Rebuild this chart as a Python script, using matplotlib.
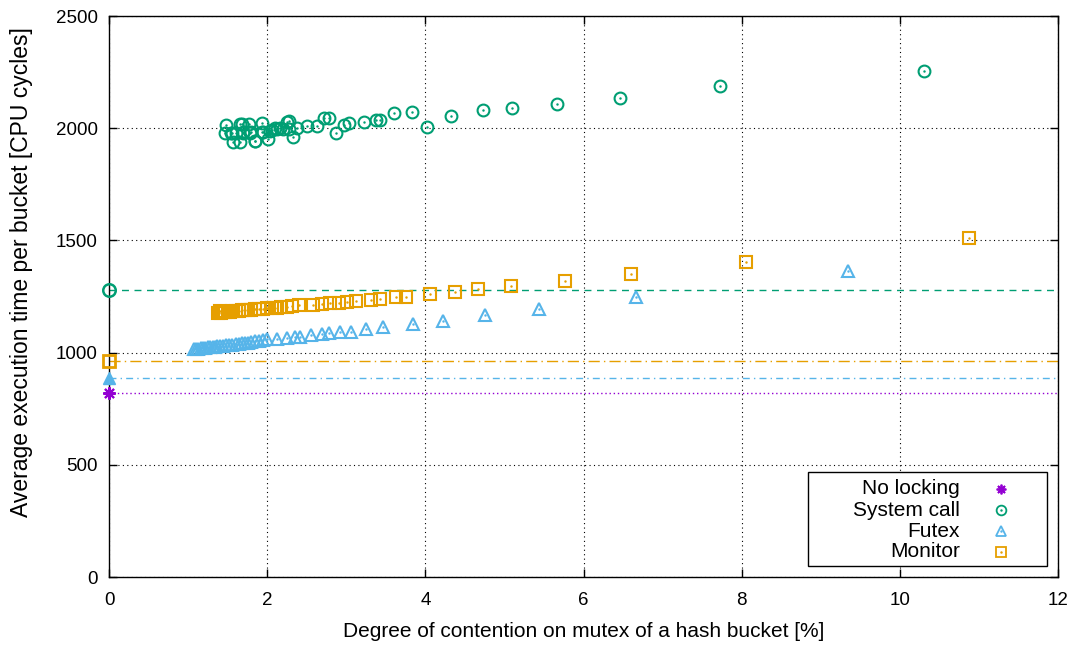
import matplotlib
matplotlib.use("Agg")
import matplotlib.pyplot as plt
from matplotlib.patches import Rectangle

# baselines (contention 0)
BASE_NOLOCK = 820
BASE_SYSCALL = 1280
BASE_FUTEX = 887
BASE_MONITOR = 962

syscall_x = [1.47, 1.48, 1.54, 1.55, 1.57, 1.61, 1.66, 1.66, 1.68, 1.70, 1.70,
             1.77, 1.78, 1.80, 1.84, 1.85, 1.93, 1.94, 1.95, 2.01, 2.04, 2.06,
             2.10, 2.12, 2.16, 2.20, 2.25, 2.27, 2.27, 2.33, 2.38, 2.50, 2.63,
             2.72, 2.78, 2.87, 2.97, 3.03, 3.22, 3.38, 3.43, 3.61, 3.83, 4.02,
             4.33, 4.73, 5.09, 5.67, 6.46, 7.72, 10.30]
syscall_y = [1977, 2014, 1977, 1977, 1940, 1977, 1940, 2019, 2019, 1977, 1981,
             2019, 1980, 1981, 1944, 1944, 1984, 2024, 1984, 1950, 1989, 1992,
             1999, 1995, 1999, 1995, 2029, 2033, 1995, 1959, 1999, 2012, 2012,
             2046, 2046, 1977, 2014, 2024, 2029, 2036, 2036, 2069, 2072, 2007,
             2054, 2081, 2091, 2109, 2133, 2186, 2255]

futex_x = [1.07, 1.10, 1.13, 1.16, 1.19, 1.22, 1.25, 1.28, 1.31, 1.34, 1.37,
           1.40, 1.44, 1.48, 1.52, 1.56, 1.60, 1.64, 1.68, 1.72, 1.76, 1.80,
           1.85, 1.90, 1.95, 2.00, 2.13, 2.25, 2.35, 2.42, 2.56, 2.69, 2.78,
           2.92, 3.06, 3.25, 3.46, 3.84, 4.22, 4.75, 5.44, 6.67, 9.35]
futex_y = [1014, 1016, 1018, 1019, 1020, 1022, 1023, 1024, 1026, 1027, 1028,
           1030, 1031, 1033, 1034, 1036, 1037, 1039, 1041, 1043, 1045, 1047,
           1050, 1053, 1056, 1059, 1060, 1064, 1068, 1071, 1078, 1083, 1086,
           1090, 1094, 1104, 1112, 1128, 1143, 1166, 1194, 1249, 1365]

monitor_x = [1.38, 1.40, 1.42, 1.44, 1.47, 1.50, 1.53, 1.56, 1.60, 1.64, 1.68,
             1.72, 1.76, 1.80, 1.85, 1.90, 1.95, 2.00, 2.06, 2.12, 2.18, 2.25,
             2.32, 2.40, 2.58, 2.69, 2.79, 2.91, 3.01, 3.12, 3.31, 3.43, 3.63,
             3.76, 4.06, 4.37, 4.66, 5.08, 5.76, 6.60, 8.05, 10.87]
monitor_y = [1176, 1186, 1178, 1180, 1181, 1182, 1183, 1184, 1185, 1186, 1188,
             1189, 1190, 1191, 1193, 1194, 1196, 1197, 1199, 1201, 1203, 1205,
             1208, 1210, 1212, 1215, 1219, 1222, 1227, 1230, 1236, 1239, 1246,
             1250, 1262, 1271, 1282, 1297, 1320, 1352, 1402, 1512]

labels = ["No locking", "System call", "Futex", "Monitor"]

C_NOLOCK = "#9400d3"
C_SYSCALL = "#009e73"
C_FUTEX = "#56b4e9"
C_MONITOR = "#e69f00"
STAR = (8, 2, 0)

plt.rcParams["font.family"] = ["Liberation Sans", "DejaVu Sans"]

fig = plt.figure(figsize=(10.75, 6.46), dpi=100)
ax = fig.add_axes([0.1014, 0.1068, 0.8828, 0.8684])

# baselines as horizontal lines
ax.plot([0, 12], [BASE_NOLOCK] * 2, color=C_NOLOCK, lw=1.0, ls=(0, (1, 2)))
ax.plot([0, 12], [BASE_FUTEX] * 2, color=C_FUTEX, lw=1.0, ls=(0, (5, 3, 1, 3)))
ax.plot([0, 12], [BASE_MONITOR] * 2, color=C_MONITOR, lw=1.0, ls=(0, (8, 3, 1, 3)))
ax.plot([0, 12], [BASE_SYSCALL] * 2, color=C_SYSCALL, lw=1.0, ls=(0, (5, 4)))

ax.plot([0], [BASE_NOLOCK], ls="none", marker=STAR, ms=9, mew=1.5,
        color=C_NOLOCK, clip_on=False, zorder=5)
ax.plot([0], [BASE_FUTEX], ls="none", marker="^", ms=9, color=C_FUTEX,
        clip_on=False, zorder=5)
ax.plot([0], [BASE_MONITOR], ls="none", marker="s", ms=9, mfc="none", mew=2,
        color=C_MONITOR, clip_on=False, zorder=5)
ax.plot([0], [BASE_SYSCALL], ls="none", marker="o", ms=9, mfc="none", mew=1.8,
        color=C_SYSCALL, clip_on=False, zorder=5)

# measured points (open markers with a centre dot, gnuplot style)
series = [(syscall_x, syscall_y, "o", C_SYSCALL),
          (futex_x, futex_y, "^", C_FUTEX),
          (monitor_x, monitor_y, "s", C_MONITOR)]
for xs, ys, mk, col in series:
    ax.plot(xs, ys, ls="none", marker=mk, ms=8.5, mfc="none", mew=1.5, color=col)
    ax.plot(xs, ys, ls="none", marker=".", ms=1.5, color=col)

ax.set_xlim(0, 12)
ax.set_ylim(0, 2500)
ax.set_xticks(range(0, 13, 2))
ax.set_yticks(range(0, 2501, 500))
ax.tick_params(direction="in", top=True, right=True, length=6, width=1,
               labelsize=13.5)
ax.tick_params(axis="x", pad=11)
ax.tick_params(axis="y", pad=8)
ax.grid(True, color="black", ls=(0, (1, 3)), lw=0.8)
for s in ax.spines.values():
    s.set_linewidth(1.0)

ax.set_xlabel("Degree of contention on mutex of a hash bucket [%]",
              fontsize=15, labelpad=9)
ax.set_ylabel("Average execution time per bucket [CPU cycles]", fontsize=16.5)
ax.yaxis.set_label_coords(-0.080, 0.544)

# gnuplot-like key: right-aligned text, sample marker to the right
ax.add_patch(Rectangle((0.7366, 0.0196), 0.2518, 0.1676, transform=ax.transAxes,
                       facecolor="white", edgecolor="black", lw=1.0, zorder=10))
key_marks = [(STAR, C_NOLOCK), ("o", C_SYSCALL), ("^", C_FUTEX), ("s", C_MONITOR)]
key_rows = [0.1569, 0.1194, 0.0820, 0.0446]
for lab, (mk, col), yk in zip(labels, key_marks, key_rows):
    ax.text(0.8967, yk, lab, transform=ax.transAxes, ha="right", va="center",
            fontsize=15, zorder=11)
    ax.plot([0.940], [yk], transform=ax.transAxes, ls="none", marker=mk, ms=7,
            mfc="none", mew=1.3, color=col, zorder=11, clip_on=False)
    if mk != STAR:
        ax.plot([0.940], [yk], transform=ax.transAxes, ls="none", marker=".",
                ms=1.5, color=col, zorder=12, clip_on=False)

fig.savefig("out.png", dpi=100)
